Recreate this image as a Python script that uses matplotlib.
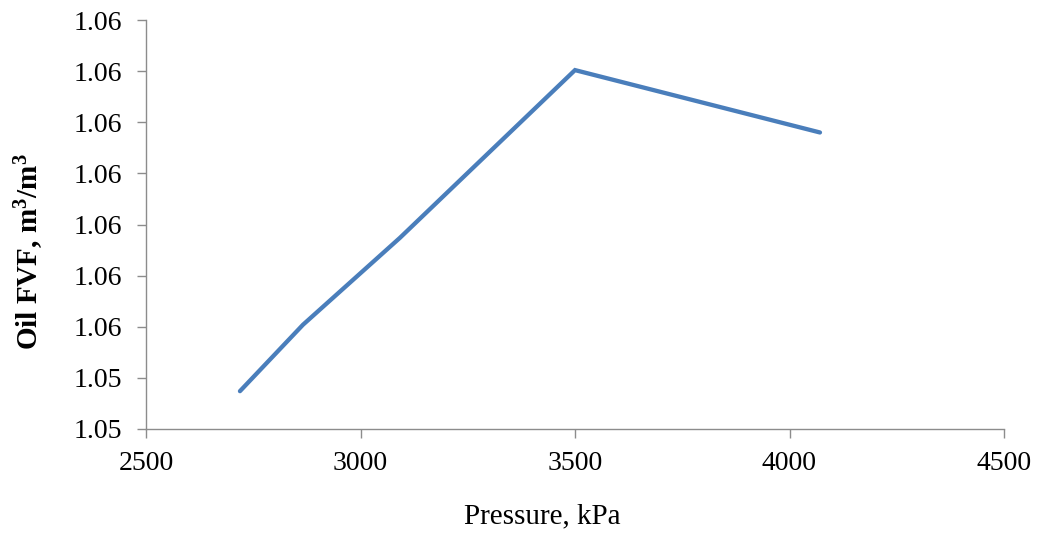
import matplotlib
matplotlib.use("Agg")
import matplotlib.pyplot as plt

# Oil formation volume factor vs. pressure
pressure_kpa = [2719, 2866, 3092, 3500, 4071]
oil_fvf = [1.05437, 1.05502, 1.05587, 1.05751, 1.05690]

y_ticks = [1.054, 1.0545, 1.055, 1.0555, 1.056, 1.0565, 1.057, 1.0575, 1.058]
y_tick_labels = ["1.05", "1.05", "1.06", "1.06", "1.06", "1.06", "1.06", "1.06", "1.06"]
x_ticks = [2500, 3000, 3500, 4000, 4500]

plt.rcParams["font.family"] = ["Liberation Serif", "DejaVu Serif"]
plt.rcParams["mathtext.fontset"] = "custom"
plt.rcParams["mathtext.rm"] = "Liberation Serif"
plt.rcParams["mathtext.bf"] = "Liberation Serif:bold"

W, H = 1038, 536
fig = plt.figure(figsize=(W / 100, H / 100), dpi=100)
ax = fig.add_axes([146 / W, 1 - 429 / H, (1004 - 146) / W, (429 - 20) / H])

ax.plot(pressure_kpa, oil_fvf, color="#4A7EBB", linewidth=3.1, solid_capstyle="round",
        solid_joinstyle="miter")

ax.set_xlim(2500, 4500)
ax.set_ylim(1.054, 1.058)
ax.set_xticks(x_ticks)
ax.set_xticklabels([str(t) for t in x_ticks])
ax.set_yticks(y_ticks)
ax.set_yticklabels(y_tick_labels)

for side in ("top", "right"):
    ax.spines[side].set_visible(False)
for side in ("left", "bottom"):
    ax.spines[side].set_color("#8c8c8c")
    ax.spines[side].set_linewidth(1.0)

ax.tick_params(axis="both", direction="out", length=6.5, width=1.0, color="#8c8c8c",
               labelsize=20, labelcolor="black")
ax.tick_params(axis="y", pad=11)
ax.tick_params(axis="x", pad=9)

fig.text(542 / W, 1 - 516 / H, "Pressure, kPa", fontsize=21, ha="center", va="center")
fig.text(29 / W, 1 - 252 / H, r"Oil FVF, m$\mathbf{^3}$/m$\mathbf{^3}$", fontsize=21,
         fontweight="bold", rotation=90, ha="center", va="center")

fig.savefig("out.png", dpi=100, facecolor="white")
